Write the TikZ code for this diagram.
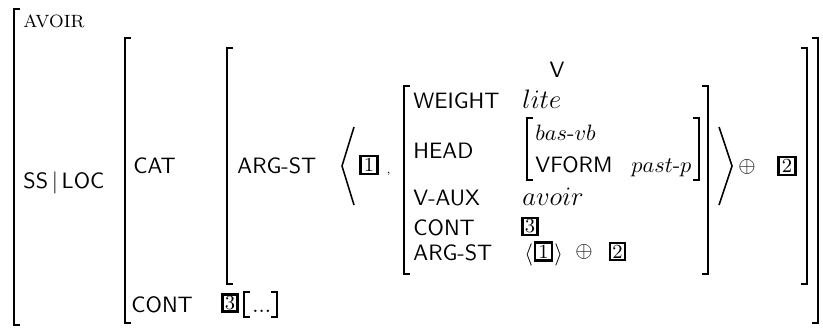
\documentclass[tikz,border=0pt]{standalone}
\usepackage{amsmath}
\usepackage{amssymb}
\usepackage{tikz}

\begin{document}
\begin{tikzpicture}[x=0.45pt,y=-0.45pt,
  lbl/.style={font=\sffamily, anchor=base west, inner sep=0pt},
  val/.style={anchor=base west, inner sep=0pt},
  tagbox/.style={draw, line width=1.1pt, inner sep=0pt, minimum width=6.6pt,
    minimum height=7.8pt, font=\small},
  widetag/.style={tagbox, minimum width=7.8pt, minimum height=8.2pt},
  brk/.style={line width=0.7pt}]

  \useasboundingbox (0,0) rectangle (823,327);

  % outer matrix
  \draw[brk] (20,9) -- (14,9) -- (14,325) -- (20,325);
  \node[val, font=\footnotesize] (avoir) at (23,27) {AVOIR};
  \node[lbl] (ssloc) at (23,188) {SS\,$|$\,LOC};

  % SS|LOC value
  \draw[brk] (131,38) -- (125,38) -- (125,323) -- (131,323);
  \draw[brk] (812,38) -- (818,38) -- (818,323) -- (812,323);
  \node[lbl] (cat) at (133,173) {CAT};
  \node[lbl] (cont) at (131,312) {CONT};
  \node[tagbox] (tagthree) at (230,303) {3};
  \draw[brk] (250,292) -- (244,292) -- (244,317) -- (250,317);
  \node[val] (dots) at (252,312) {...};
  \draw[brk] (271,292) -- (277,292) -- (277,317) -- (271,317);

  % CAT value
  \draw[brk] (233,48) -- (227,48) -- (227,284) -- (233,284);
  \draw[brk] (801,48) -- (807,48) -- (807,284) -- (801,284);
  \node[lbl] (argst) at (237,173) {ARG-ST};

  % list
  \draw[brk] (354,127) -- (342,166) -- (354,205);
  \draw[brk] (719,127) -- (732,166) -- (719,205);
  \node[widetag] (tagone) at (369,165) {1};
  \node[val, font=\tiny] (comma) at (386,173) {,};
  \node[inner sep=0pt] (plus) at (747,167) {$\oplus$};
  \node[widetag] (tagtwo) at (787,166) {2};

  % the V element
  \node[lbl, anchor=base] (v) at (557,77) {V};
  \draw[brk] (410,86) -- (404,86) -- (404,274) -- (410,274);
  \draw[brk] (702,86) -- (708,86) -- (708,274) -- (702,274);
  \node[lbl] (weight) at (413,108) {WEIGHT};
  \node[val, font=\large] (lite) at (522,108) {$lite$};
  \node[lbl] (head) at (413,158) {HEAD};
  \draw[brk] (533,118) -- (527,118) -- (527,180) -- (533,180);
  \draw[brk] (693,118) -- (699,118) -- (699,180) -- (693,180);
  \node[val] (basvb) at (535,140) {$bas$-$vb$};
  \node[lbl] (vform) at (535,172) {VFORM};
  \node[val] (pastp) at (631,172) {$past$-$p$};
  \node[lbl] (vaux) at (413,205) {V-AUX};
  \node[val, font=\large] (avoirv) at (522,205) {$avoir$};
  \node[lbl] (conttwo) at (413,235) {CONT};
  \node[tagbox] (tagthreeb) at (530,226.5) {3};
  \node[lbl] (argsttwo) at (413,260) {ARG-ST};
  \node[val] (langle) at (524,260) {$\langle$};
  \node[widetag] (tagoneb) at (543.5,251.5) {1};
  \node[val] (rangle) at (554,260) {$\rangle$};
  \node[inner sep=0pt] (plustwo) at (584,252) {$\oplus$};
  \node[tagbox] (tagtwob) at (617.5,251.5) {2};

\end{tikzpicture}
\end{document}
